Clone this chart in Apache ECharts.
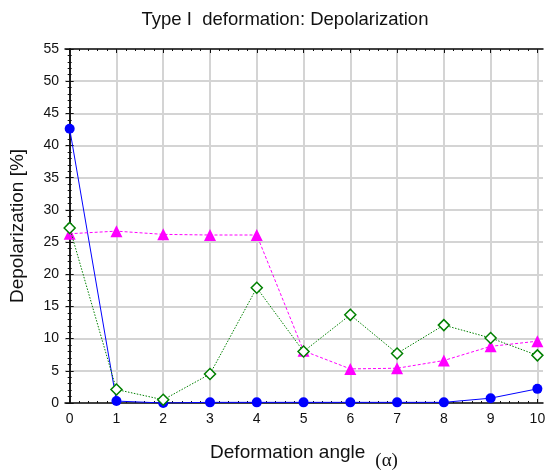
<!DOCTYPE html>
<html>
<head>
<meta charset="utf-8">
<script src="https://cdn.jsdelivr.net/npm/echarts@6/dist/echarts.min.js"></script>
<style>
  html, body { margin: 0; padding: 0; background: #fff; }
  #chart { width: 546px; height: 473px; }
</style>
</head>
<body>
<div id="chart"></div>
<script>
var angles = [0, 1, 2, 3, 4, 5, 6, 7, 8, 9, 10];
var xTicks = [0, 1, 2, 3, 4, 5, 6, 7, 8, 9, 10];
var blueSeries = [42.6, 0.3, 0.0, 0.1, 0.1, 0.1, 0.1, 0.1, 0.1, 0.75, 2.2];
var magentaSeries = [26.3, 26.7, 26.2, 26.1, 26.1, 8.1, 5.3, 5.4, 6.6, 8.8, 9.6];
var greenSeries = [27.2, 2.1, 0.5, 4.5, 17.9, 8.0, 13.7, 7.7, 12.1, 10.1, 7.4];

// minor tick positions, 5 per unit
var xMinor = [];
xTicks.slice(0, -1).forEach(function(t) {
  for (var k = 1; k < 5; k++) xMinor.push(t + k / 5);
});

function pairs(vals) {
  return angles.map(function(a, i) { return [a, vals[i]]; });
}

var ink = '#111111';
var gridColor = '#d4d4d4';
var font = 'Liberation Sans, Arial, sans-serif';

var chart = echarts.init(document.getElementById('chart'), null, { renderer: 'canvas' });

function xAxisOf(pos, ticks, len, extra) {
  return Object.assign({
    type: 'value',
    position: pos,
    min: -0.1,
    max: 10.12,
    axisLine: { show: true, onZero: false, lineStyle: { color: ink, width: 1.5 } },
    axisTick: { show: true, inside: true, length: len, customValues: ticks, lineStyle: { color: ink } },
    axisLabel: { show: false },
    splitLine: { show: false }
  }, extra || {});
}

chart.setOption({
  animation: false,
  title: {
    text: 'Type I  deformation: Depolarization',
    left: 280,
    top: 5,
    textAlign: 'center',
    textStyle: { fontFamily: font, fontSize: 18.5, fontWeight: 'normal', color: ink }
  },
  grid: { left: 65, right: 3, top: 49, bottom: 70, containLabel: false, outerBoundsMode: 'none' },
  xAxis: [
    xAxisOf('bottom', xTicks, 4, {
      name: '{a|Deformation angle}{b|(α)}',
      nameLocation: 'middle',
      nameGap: 40,
      nameTextStyle: {
        rich: {
          a: { fontFamily: font, fontSize: 19, color: ink, verticalAlign: 'top' },
          b: { fontFamily: 'Liberation Serif, DejaVu Serif, serif', fontSize: 19, color: ink, verticalAlign: 'top', padding: [9, 0, 0, 10] }
        }
      },
      axisLabel: { show: true, customValues: xTicks, margin: 9, color: ink, fontFamily: font, fontSize: 14 },
      splitLine: { show: true, customValues: xTicks, lineStyle: { color: gridColor, width: 2 } }
    }),
    xAxisOf('top', xTicks, 4),
    xAxisOf('bottom', xMinor, 2, { axisLine: { show: false, onZero: false } }),
    xAxisOf('top', xMinor, 2, { axisLine: { show: false, onZero: false } })
  ],
  yAxis: [
    {
      type: 'value',
      position: 'left',
      min: 0,
      max: 55,
      interval: 5,
      name: 'Depolarization [%]',
      nameLocation: 'middle',
      nameGap: 38,
      nameTextStyle: { fontFamily: font, fontSize: 19, color: ink },
      axisLine: { show: true, lineStyle: { color: ink, width: 1.5 } },
      axisTick: { show: true, inside: true, length: 4, lineStyle: { color: ink } },
      minorTick: { show: true, splitNumber: 5, length: 2, lineStyle: { color: ink } },
      axisLabel: { color: ink, fontFamily: font, fontSize: 14, margin: 6 },
      splitLine: { show: true, lineStyle: { color: gridColor, width: 2 } }
    },
    {
      type: 'value',
      position: 'right',
      min: 0,
      max: 55,
      interval: 5,
      axisLine: { show: true, lineStyle: { color: ink, width: 1.5 } },
      axisTick: { show: true, inside: true, length: 4, lineStyle: { color: ink } },
      minorTick: { show: true, splitNumber: 5, length: 2, lineStyle: { color: ink } },
      axisLabel: { show: false },
      splitLine: { show: false }
    }
  ],
  series: [
    {
      name: 'blue',
      type: 'line',
      data: pairs(blueSeries),
      symbol: 'circle',
      symbolSize: 10,
      itemStyle: { color: '#0000ff' },
      lineStyle: { color: '#0000ff', width: 1 },
      z: 3
    },
    {
      name: 'magenta',
      type: 'line',
      data: pairs(magentaSeries),
      symbol: 'triangle',
      symbolSize: 12,
      itemStyle: { color: '#ff00ff' },
      lineStyle: { color: '#ff00ff', width: 1, type: [3, 2] },
      z: 4
    },
    {
      name: 'green',
      type: 'line',
      data: pairs(greenSeries),
      symbol: 'diamond',
      symbolSize: 11,
      itemStyle: { color: '#ffffff', borderColor: '#008000', borderWidth: 1.5 },
      lineStyle: { color: '#008000', width: 1, type: [1.5, 1.5] },
      z: 5
    }
  ]
});

window.addEventListener('resize', function() { chart.resize(); });
</script>
</body>
</html>
